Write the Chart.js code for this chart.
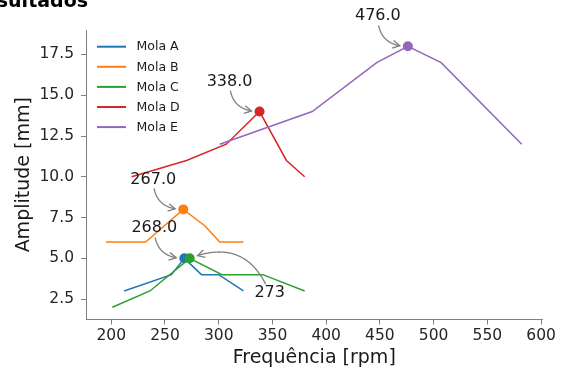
<!DOCTYPE html>
<html>
<head>
<meta charset="utf-8">
<script src="https://cdn.jsdelivr.net/npm/chart.js@4.4.1/dist/chart.umd.min.js"></script>
<style>
  html, body { margin: 0; padding: 0; background: #fff; }
  #wrap { width: 565px; height: 367px; }
</style>
</head>
<body>
<div id="wrap"><canvas id="grafico" width="565" height="367"></canvas></div>
<script>
// dados
const molaAFreq = [212, 256, 268, 284, 300, 323];
const molaAAmp  = [3, 4, 5, 4, 4, 3];
const molaBFreq = [195, 232, 267, 287, 301, 323];
const molaBAmp  = [6, 6, 8, 7, 6, 6];
const molaCFreq = [201, 236, 273, 303, 341, 380];
const molaCAmp  = [2, 3, 5, 4, 4, 3];
const molaDFreq = [219, 270, 307, 338, 363, 380];
const molaDAmp  = [10, 11, 12, 14, 11, 10];
const molaEFreq = [301, 387, 447, 476, 507, 582];
const molaEAmp  = [12, 14, 17, 18, 17, 12];

const nomes = ['Mola A', 'Mola B', 'Mola C', 'Mola D', 'Mola E'];
const cores = ['#1f77b4', '#ff7f0e', '#2ca02c', '#d62728', '#9467bd'];
const rotulosPico = ['268.0', '267.0', '273', '338.0', '476.0'];

const xTicks = [200, 250, 300, 350, 400, 450, 500, 550, 600];
const yTicks = [2.5, 5.0, 7.5, 10.0, 12.5, 15.0, 17.5];

// deslocamento do texto de cada anotacao (px)
const deslocRotulos = [[-30, -30], [-30, -30], [80, 35], [-30, -30], [-30, -30]];

const FONTE = 'DejaVu Sans';
const freqs = [molaAFreq, molaBFreq, molaCFreq, molaDFreq, molaEFreq];
const amps = [molaAAmp, molaBAmp, molaCAmp, molaDAmp, molaEAmp];

function indicePico(arr) {
    return arr.indexOf(Math.max(...arr));
}

const datasets = nomes.map((nome, i) => {
    const pico = indicePico(amps[i]);
    return {
        label: nome,
        data: freqs[i].map((f, j) => ({ x: f, y: amps[i][j] })),
        borderColor: cores[i],
        backgroundColor: cores[i],
        borderWidth: 1.5,
        tension: 0,
        order: 4 - i,
        pointRadius: ctx => ctx.dataIndex === pico ? 5 : 0,
        pointBorderWidth: 0,
        pointBackgroundColor: cores[i]
    };
});

function desenhaSeta(ctx, x0, y0, x1, y1, meiaL, meiaA) {
    const f = 0.5;
    const cx = (x0 + x1) / 2 - f * (y1 - y0);
    const cy = (y0 + y1) / 2 + f * (x1 - x0);
    const pts = [];
    for (let i = 0; i <= 200; i++) {
        const t = i / 200;
        const a = (1 - t) * (1 - t), b = 2 * t * (1 - t), c = t * t;
        pts.push([a * x0 + b * cx + c * x1, a * y0 + b * cy + c * y1]);
    }
    let ini = 0;
    while (ini < pts.length - 1 && Math.abs(pts[ini][0] - x0) < meiaL && Math.abs(pts[ini][1] - y0) < meiaA) ini++;
    let fim = pts.length - 1;
    while (fim > ini && Math.hypot(pts[fim][0] - x1, pts[fim][1] - y1) < 8) fim--;

    ctx.save();
    ctx.strokeStyle = '#808080';
    ctx.lineWidth = 1.3;
    ctx.beginPath();
    ctx.moveTo(pts[ini][0], pts[ini][1]);
    for (let i = ini + 1; i <= fim; i++) ctx.lineTo(pts[i][0], pts[i][1]);
    ctx.stroke();

    const tip = pts[fim];
    const prev = pts[Math.max(ini, fim - 6)];
    const ang = Math.atan2(tip[1] - prev[1], tip[0] - prev[0]);
    const L = 8, W = 0.5;
    ctx.beginPath();
    ctx.moveTo(tip[0] - L * Math.cos(ang - W), tip[1] - L * Math.sin(ang - W));
    ctx.lineTo(tip[0], tip[1]);
    ctx.lineTo(tip[0] - L * Math.cos(ang + W), tip[1] - L * Math.sin(ang + W));
    ctx.stroke();
    ctx.restore();
}

const anotacoes = {
    id: 'anotacoes',
    afterDatasetsDraw(chart) {
        const ctx = chart.ctx;
        ctx.save();
        ctx.font = '16px "' + FONTE + '"';
        ctx.textAlign = 'center';
        ctx.textBaseline = 'middle';
        ctx.fillStyle = '#1a1a1a';
        nomes.forEach((n, i) => {
            const pt = chart.getDatasetMeta(i).data[indicePico(amps[i])];
            const tx = pt.x + deslocRotulos[i][0];
            const ty = pt.y + deslocRotulos[i][1];
            const w = ctx.measureText(rotulosPico[i]).width;
            desenhaSeta(ctx, tx, ty, pt.x, pt.y, w / 2 + 2, 9);
            ctx.fillText(rotulosPico[i], tx, ty);
        });
        ctx.restore();
    }
};

const legendaInterna = {
    id: 'legendaInterna',
    afterDraw(chart) {
        const ctx = chart.ctx;
        ctx.save();
        ctx.font = '12.5px "' + FONTE + '"';
        ctx.textBaseline = 'middle';
        ctx.textAlign = 'left';
        chart.data.datasets.forEach((ds, i) => {
            const y = 46.7 + i * 20.1;
            ctx.strokeStyle = ds.borderColor;
            ctx.lineWidth = 2;
            ctx.beginPath();
            ctx.moveTo(97, y);
            ctx.lineTo(126, y);
            ctx.stroke();
            ctx.fillStyle = '#1a1a1a';
            ctx.fillText(ds.label, 136.5, y + 0.5);
        });
        ctx.restore();
    }
};

const tituloCortado = {
    id: 'tituloCortado',
    afterDraw(chart) {
        const ctx = chart.ctx;
        ctx.save();
        ctx.font = 'bold 19px "' + FONTE + '"';
        ctx.textAlign = 'right';
        ctx.textBaseline = 'alphabetic';
        ctx.fillStyle = '#000';
        ctx.fillText('Resultados', 88, 7);
        ctx.restore();
    }
};

const eixo = {
    grid: { display: true, drawOnChartArea: false, drawTicks: true, tickLength: 5, tickColor: '#808080', tickWidth: 1 },
    border: { display: true, color: '#808080', width: 1 }
};

new Chart(document.getElementById('grafico').getContext('2d'), {
    type: 'line',
    data: { datasets: datasets },
    plugins: [anotacoes, legendaInterna, tituloCortado],
    options: {
        responsive: false,
        devicePixelRatio: 1,
        animation: false,
        layout: { padding: { left: 0, right: 22.5, top: 30, bottom: 0 } },
        plugins: {
            legend: { display: false },
            tooltip: { enabled: false }
        },
        scales: {
            x: {
                type: 'linear',
                min: 176.5,
                max: 601.3,
                grid: eixo.grid,
                border: eixo.border,
                afterBuildTicks: s => { s.ticks = xTicks.map(v => ({ value: v })); },
                afterFit: s => { s.height = 47.5; },
                ticks: {
                    autoSkip: false,
                    maxRotation: 0,
                    padding: 2,
                    color: '#262626',
                    font: { family: FONTE, size: 15.5 },
                    callback: v => String(v)
                },
                title: {
                    display: true,
                    text: 'Frequência [rpm]',
                    color: '#1a1a1a',
                    font: { family: FONTE, size: 19 },
                    padding: { top: 0, bottom: -2 }
                }
            },
            y: {
                type: 'linear',
                min: 1.25,
                max: 19.0,
                grid: eixo.grid,
                border: eixo.border,
                afterBuildTicks: s => { s.ticks = yTicks.map(v => ({ value: v })); },
                afterFit: s => { s.width = 86; },
                ticks: {
                    autoSkip: false,
                    padding: 7,
                    color: '#262626',
                    font: { family: FONTE, size: 15.5 },
                    callback: v => Number(v).toFixed(1)
                },
                title: {
                    display: true,
                    text: 'Amplitude [mm]',
                    color: '#1a1a1a',
                    font: { family: FONTE, size: 19 },
                    padding: { top: 13, bottom: 0 }
                }
            }
        }
    }
});
</script>
</body>
</html>
